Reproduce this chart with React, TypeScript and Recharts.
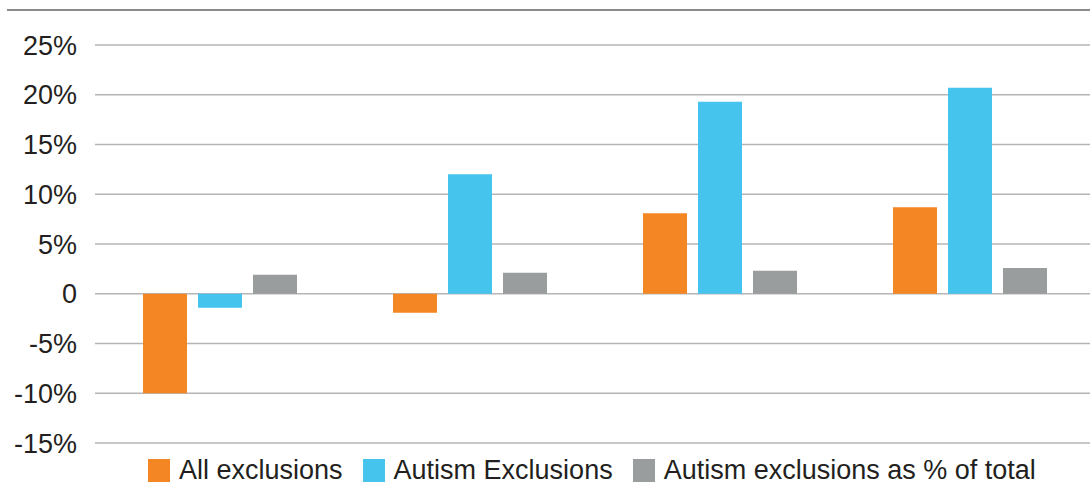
import { BarChart, Bar, XAxis, YAxis, CartesianGrid, Legend } from "recharts";

const categories = ["Group 1", "Group 2", "Group 3", "Group 4"];
const allExclusions = [-10.0, -1.9, 8.1, 8.7];
const autismExclusions = [-1.4, 12.0, 19.3, 20.7];
const autismShare = [1.9, 2.1, 2.3, 2.6];
const yTicks = [-15, -10, -5, 0, 5, 10, 15, 20, 25];

const series = [
  { key: "all", name: "All exclusions", color: "#F58624" },
  { key: "autism", name: "Autism Exclusions", color: "#45C5EE" },
  { key: "share", name: "Autism exclusions as % of total", color: "#9A9D9D" },
];

const data = categories.map((name, i) => ({
  name,
  all: allExclusions[i],
  autism: autismExclusions[i],
  share: autismShare[i],
}));

const font = "'Liberation Sans', Arial, Helvetica, sans-serif";

function LegendRow() {
  return (
    <div style={{ display: "flex", alignItems: "flex-start", fontFamily: font }}>
      {series.map((s) => (
        <div
          key={s.key}
          style={{ display: "flex", alignItems: "flex-start", marginRight: 20 }}
        >
          <div
            style={{
              width: 22,
              height: 23,
              marginTop: 2,
              marginRight: 9,
              background: s.color,
            }}
          />
          <span style={{ fontSize: 27, lineHeight: "27px", color: "#231f20", whiteSpace: "nowrap" }}>
            {s.name}
          </span>
        </div>
      ))}
    </div>
  );
}

export default function App() {
  return (
    <div
      style={{
        position: "absolute",
        top: 0,
        left: 0,
        width: 1090,
        height: 485,
        overflow: "hidden",
        background: "#fff",
      }}
    >
      <div
        style={{
          position: "absolute",
          top: 9,
          left: 7,
          width: 1083,
          height: 2,
          background: "#8c8c8c",
        }}
      />
      <BarChart
        width={1100}
        height={485}
        data={data}
        margin={{ top: 45, right: 5, bottom: 42, left: 0 }}
        barSize={44}
        barGap={11}
      >
        <CartesianGrid vertical={false} stroke="#b5b5b5" strokeWidth={1.5} />
        <XAxis dataKey="name" hide />
        <YAxis
          width={95}
          domain={[-15, 25]}
          ticks={yTicks}
          interval={0}
          axisLine={false}
          tickLine={false}
          tickSize={0}
          tickMargin={18}
          tickFormatter={(v: number) => (v === 0 ? "0" : `${v}%`)}
          tick={{ fill: "#231f20", fontSize: 27, fontFamily: font }}
        />
        <Legend
          layout="vertical"
          align="center"
          verticalAlign="middle"
          wrapperStyle={{ left: 148, top: 457, width: 950 }}
          content={() => <LegendRow />}
        />
        {series.map((s) => (
          <Bar
            key={s.key}
            dataKey={s.key}
            name={s.name}
            fill={s.color}
            isAnimationActive={false}
          />
        ))}
      </BarChart>
    </div>
  );
}
